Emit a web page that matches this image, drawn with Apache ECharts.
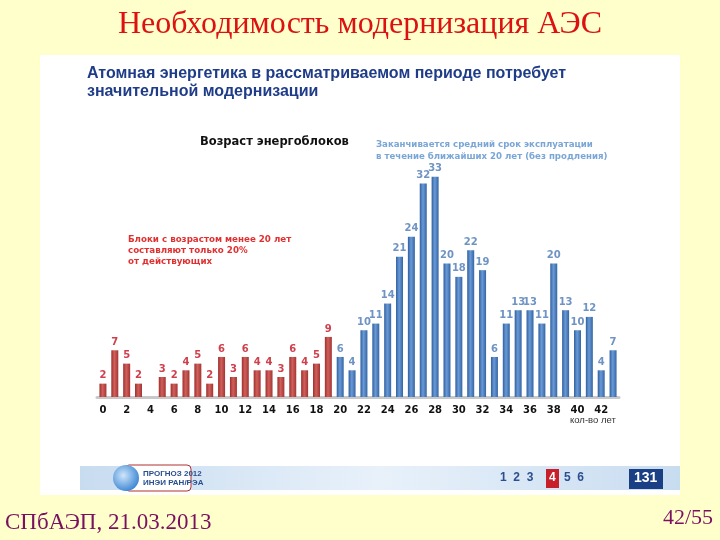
<!DOCTYPE html>
<html><head><meta charset="utf-8">
<script src="https://cdn.jsdelivr.net/npm/echarts@6/dist/echarts.min.js"></script>
<style>html,body{margin:0;padding:0;background:#FFFFCC}#c{width:720px;height:540px}</style>
</head><body><div id="c"></div>
<script>
const categories = Array.from({length:44}, (_, i) => String(i));
const tickLabels = ['0','2','4','6','8','10','12','14','16','18','20','22','24','26','28','30','32','34','36','38','40','42'];
const redValues = [2,7,5,2,0,3,2,4,5,2,6,3,6,4,4,3,6,4,5,9];
const blueValues = [6,4,10,11,14,21,24,32,33,20,18,22,19,6,11,13,13,11,20,13,10,12,4,7];

const redGrad = {type:'linear',x:0,y:0,x2:1,y2:0,colorStops:[{offset:0,color:'#9e2f2c'},{offset:0.45,color:'#d0605c'},{offset:1,color:'#a33431'}]};
const blueGrad = {type:'linear',x:0,y:0,x2:1,y2:0,colorStops:[{offset:0,color:'#2f5f9e'},{offset:0.45,color:'#6a9ad6'},{offset:1,color:'#3465a4'}]};

const data = redValues.map(v => ({value:v, itemStyle:{color:redGrad}, label:{color:'#d0404c'}}))
  .concat(blueValues.map(v => ({value:v, itemStyle:{color:blueGrad}, label:{color:'#6f94c4'}})));

const chart = echarts.init(document.getElementById('c'));
chart.setOption({
  backgroundColor:'#FFFFCC',
  animation:false,
  graphic:[
    {type:'rect', shape:{x:40,y:55,width:640,height:440}, style:{fill:'#ffffff'}, z:-10},
    {type:'text', left:'center', top:9, style:{text:'Необходимость модернизация АЭС', font:'32px "Liberation Serif"', fill:'#dd1111'}},
    {type:'text', left:87, top:65, style:{text:'Атомная энергетика в рассматриваемом периоде потребует\nзначительной модернизации', font:'bold 16px "Liberation Sans"', fill:'#1f3c88', lineHeight:18}},
    {type:'text', left:200, top:136, style:{text:'Возраст энергоблоков', font:'bold 11.5px "DejaVu Sans"', fill:'#111'}},
    {type:'text', left:376, top:139, style:{text:'Заканчивается средний срок эксплуатации\nв течение ближайших 20 лет (без продления)', font:'bold 8.6px "DejaVu Sans"', fill:'#7aa6d6', lineHeight:12}},
    {type:'text', left:128, top:234, style:{text:'Блоки с возрастом менее 20 лет\nсоставляют только 20%\nот действующих', font:'bold 8.7px "DejaVu Sans"', fill:'#e03030', lineHeight:11}},
    {type:'text', left:570, top:415, style:{text:'кол-во лет', font:'9.5px "Liberation Sans"', fill:'#333'}},
    {type:'rect', shape:{x:80,y:466,width:600,height:24}, style:{fill:{type:'linear',x:0,y:0,x2:1,y2:0,colorStops:[{offset:0,color:'#c8dcf0'},{offset:0.5,color:'#e8f1fa'},{offset:1,color:'#c8dcf0'}]}}},
    {type:'rect', shape:{x:125,y:465,width:66,height:26,r:4}, style:{fill:'#ffffff',stroke:'#b03030',lineWidth:1}},
    {type:'circle', shape:{cx:126,cy:478,r:13}, style:{fill:{type:'radial',x:0.4,y:0.4,r:0.7,colorStops:[{offset:0,color:'#cfe6fb'},{offset:1,color:'#2e7dd0'}]}}},
    {type:'text', left:143, top:469, style:{text:'ПРОГНОЗ 2012\nИНЭИ РАН/РЭА', font:'bold 8px "Liberation Sans"', fill:'#2a4f8f', lineHeight:9}},
    {type:'text', left:500, top:472, style:{text:'1  2  3', font:'bold 12px "Liberation Sans"', fill:'#2a4f8f'}},
    {type:'rect', shape:{x:546,y:469,width:13,height:19}, style:{fill:'#c8202a'}},
    {type:'text', left:549, top:472, style:{text:'4', font:'bold 12px "Liberation Sans"', fill:'#fff'}},
    {type:'text', left:564, top:472, style:{text:'5  6', font:'bold 12px "Liberation Sans"', fill:'#2a4f8f'}},
    {type:'rect', shape:{x:629,y:469,width:34,height:20}, style:{fill:'#1a3f85'}},
    {type:'text', left:634, top:471, style:{text:'131', font:'bold 14px "Liberation Sans"', fill:'#fff'}},
    {type:'text', left:5, top:511, style:{text:'СПбАЭП, 21.03.2013', font:'23px "Liberation Serif"', fill:'#7a1060'}},
    {type:'text', right:7, top:507, style:{text:'42/55', font:'22px "Liberation Serif"', fill:'#7a1060'}}
  ],
  grid:{left:97, right:101, top:130, height:267, containLabel:false},
  xAxis:{type:'category', data:categories,
    axisLine:{lineStyle:{color:'#c8c8c8', width:3}},
    axisTick:{show:false},
    axisLabel:{interval:0, formatter:(v)=> tickLabels.includes(v) ? v : '', color:'#111', fontWeight:'bold', fontSize:10, fontFamily:'DejaVu Sans', margin:8}},
  yAxis:{type:'value', min:0, max:40, show:false, splitLine:{show:false}},
  series:[{type:'bar', data:data, barWidth:7,
    label:{show:true, position:'top', fontWeight:'bold', fontSize:10, fontFamily:'DejaVu Sans', distance:3,
      formatter:(p)=> p.value===0 ? '' : p.value}}]
});
</script></body></html>
